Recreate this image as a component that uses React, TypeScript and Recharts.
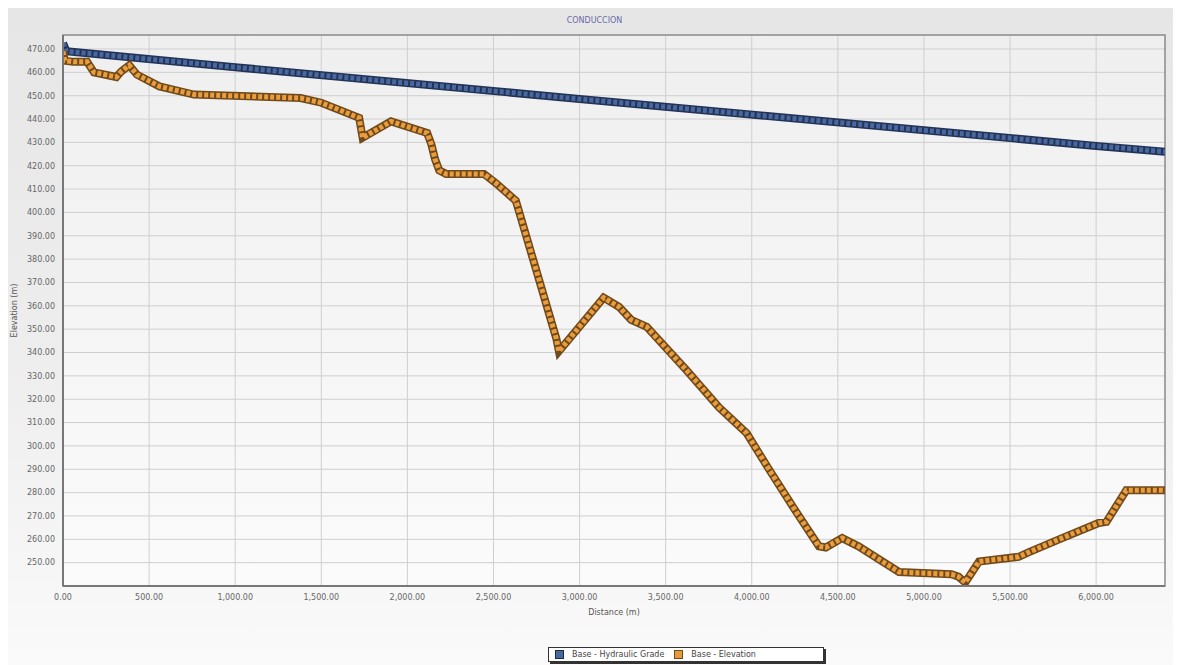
import { LineChart, Line, XAxis, YAxis, CartesianGrid, ReferenceArea, Label } from "recharts"

// Base - Hydraulic Grade (m) along the pipe
const HGL_DISTANCE = [0, 20, 1000, 3000, 6000, 6400]
const HGL_ELEVATION = [472.5, 469, 462.2, 448.6, 428.5, 426]

// Base - Elevation (m) along the pipe
const ELEV_DISTANCE = [
  0, 10, 60, 140, 180, 310, 340, 385, 430, 560, 760, 1380, 1500, 1720, 1740, 1905, 2115, 2140, 2160,
  2185, 2225, 2445, 2515, 2630, 2650, 2865, 2880, 3140, 3230, 3300, 3390, 3620, 3810, 3970, 4100, 4260,
  4390, 4430, 4525, 4620, 4855, 5160, 5200, 5240, 5320, 5550, 5610, 5785, 6015, 6060, 6175, 6400,
]
const ELEV_VALUES = [
  469, 465, 464.5, 464.5, 460, 458, 460.5, 463, 459, 454, 450.5, 449, 447, 440.5, 432, 439, 434, 429, 423,
  418, 416.5, 416.5, 412.5, 405, 400, 346, 340.5, 363.5, 359.5, 354, 351, 332.5, 316.5, 305.5, 290, 271.5,
  257, 256.5, 260.5, 257, 246, 245, 244, 241.5, 250.5, 252.5, 254.5, 260, 267, 267.5, 281, 281,
]

const X_TICKS = [0, 500, 1000, 1500, 2000, 2500, 3000, 3500, 4000, 4500, 5000, 5500, 6000]
const Y_TICKS = [
  250, 260, 270, 280, 290, 300, 310, 320, 330, 340, 350, 360, 370, 380, 390, 400, 410, 420, 430, 440, 450,
  460, 470,
]
const SERIES_NAMES = ["Base - Hydraulic Grade", "Base - Elevation"]

const hglData = HGL_DISTANCE.map((x, i) => ({ x, y: HGL_ELEVATION[i] }))
const elevData = ELEV_DISTANCE.map((x, i) => ({ x, y: ELEV_VALUES[i] }))

const fmt = (v: number) => v.toLocaleString("en-US", { minimumFractionDigits: 2, maximumFractionDigits: 2 })

const tickStyle = { fontFamily: "DejaVu Sans", fontSize: 8, fill: "#666" }

function LegendBox() {
  const item = (color: string, border: string, label: string) => (
    <span style={{ display: "inline-flex", alignItems: "center", marginRight: 10 }}>
      <span
        style={{
          display: "inline-block",
          width: 7,
          height: 7,
          background: color,
          border: `1px solid ${border}`,
          marginRight: 8,
        }}
      />
      {label}
    </span>
  )
  return (
    <div
      style={{
        position: "absolute",
        left: 540,
        top: 639,
        width: 268,
        height: 13,
        background: "#fff",
        border: "1px solid #333",
        boxShadow: "2px 2px 0 #333",
        fontFamily: "DejaVu Sans",
        fontSize: 8,
        color: "#444",
        display: "flex",
        alignItems: "center",
        paddingLeft: 6,
      }}
    >
      {item("#4a68a0", "#1d2a44", SERIES_NAMES[0])}
      {item("#e79a3a", "#6f4a1c", SERIES_NAMES[1])}
    </div>
  )
}

export default function App() {
  return (
    <div
      style={{
        position: "relative",
        width: 1173,
        height: 657,
        background: "linear-gradient(to bottom, #e6e6e6 0%, #eeeeee 55%, #fafafa 100%)",
      }}
    >
      <div
        style={{
          position: "absolute",
          top: 8,
          left: 0,
          width: 1173,
          textAlign: "center",
          fontFamily: "DejaVu Sans",
          fontSize: 8,
          color: "#6a6aa8",
        }}
      >
        CONDUCCION
      </div>
      <LineChart width={1173} height={657} margin={{ top: 27, right: 16, left: 0, bottom: 47 }}>
        <defs>
          <linearGradient id="plotBg" x1="0" y1="0" x2="0" y2="1">
            <stop offset="0%" stopColor="#efefef" />
            <stop offset="100%" stopColor="#fbfbfb" />
          </linearGradient>
        </defs>
        <CartesianGrid stroke="#cfcfcf" fill="url(#plotBg)" verticalValues={X_TICKS} horizontalValues={Y_TICKS} />
        <XAxis
          dataKey="x"
          type="number"
          domain={[0, 6400]}
          ticks={X_TICKS}
          tickFormatter={fmt}
          tick={tickStyle}
          tickLine={false}
          axisLine={{ stroke: "#777", strokeWidth: 2 }}
          height={32}
          allowDataOverflow
        >
          <Label value="Distance (m)" position="insideBottom" offset={3} style={{ ...tickStyle, fill: "#555" }} />
        </XAxis>
        <YAxis
          dataKey="y"
          type="number"
          domain={[240, 476]}
          ticks={Y_TICKS}
          tickFormatter={fmt}
          tick={tickStyle}
          tickLine={false}
          axisLine={{ stroke: "#777", strokeWidth: 2 }}
          width={55}
          allowDataOverflow
        >
          <Label
            value="Elevation (m)"
            angle={-90}
            position="insideLeft"
            offset={6}
            style={{ ...tickStyle, fill: "#555", textAnchor: "middle" }}
          />
        </YAxis>
        <ReferenceArea x1={0} x2={6400} y1={240} y2={476} fill="none" stroke="#8a8a8a" strokeWidth={1.5} />
        <Line data={hglData} dataKey="y" name={SERIES_NAMES[0]} stroke="#223356" strokeWidth={8} dot={false} isAnimationActive={false} />
        <Line data={hglData} dataKey="y" name="hgl-fill" stroke="#4a68a0" strokeWidth={5} strokeDasharray="4 2" dot={false} isAnimationActive={false} />
        <Line data={elevData} dataKey="y" name={SERIES_NAMES[1]} stroke="#6f4a1c" strokeWidth={8} dot={false} isAnimationActive={false} />
        <Line data={elevData} dataKey="y" name="elev-fill" stroke="#eb9c3c" strokeWidth={5} strokeDasharray="4 2" dot={false} isAnimationActive={false} />
      </LineChart>
      <LegendBox />
    </div>
  )
}
